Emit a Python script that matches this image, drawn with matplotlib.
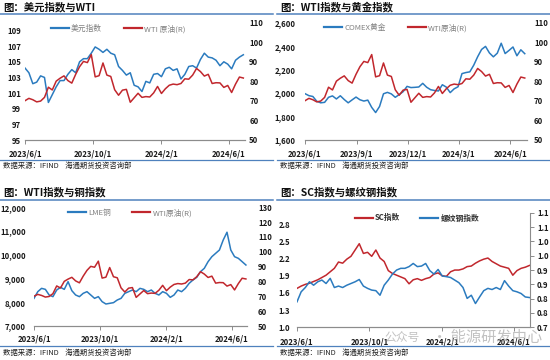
import matplotlib.pyplot as plt
import matplotlib.ticker as mticker
from matplotlib.lines import Line2D
import pandas as pd

plt.rcParams['font.family'] = ['Noto Sans CJK SC', 'DejaVu Sans']

# weekly samples, 2023/6/1 .. 2024/6/27
dates = pd.date_range('2023-06-01', periods=57, freq='7D')

dxy = [104.2, 103.6, 102.2, 102.4, 103.2, 103.0, 99.8, 100.8, 101.8, 102.6,
       102.6, 103.4, 104.0, 103.6, 105.0, 105.4, 105.4, 106.1, 106.9, 106.6,
       106.2, 106.6, 106.1, 105.9, 104.4, 103.9, 103.3, 103.6, 102.0, 101.8,
       101.2, 102.5, 102.3, 103.4, 103.5, 103.1, 104.1, 104.3, 103.9, 104.1,
       102.8, 103.4, 104.4, 104.5, 104.2, 105.3, 106.1, 105.6, 105.5, 105.2,
       104.5, 105.0, 104.7, 104.1, 105.2, 105.6, 105.9]

wti = [70.1, 71.3, 70.6, 69.5, 69.9, 71.8, 77.0, 75.6, 80.1, 81.6,
       82.8, 80.4, 79.1, 83.6, 87.5, 90.2, 89.6, 93.7, 82.3, 82.9,
       89.4, 83.2, 82.5, 75.7, 72.9, 75.5, 75.9, 69.3, 71.6, 73.9,
       71.8, 72.2, 72.0, 74.1, 77.4, 73.8, 76.2, 78.0, 78.6, 78.3,
       78.9, 81.3, 81.1, 83.2, 86.6, 85.0, 82.7, 83.6, 78.9, 79.3,
       79.2, 76.9, 77.9, 74.3, 78.6, 82.2, 81.7]

gold = [1995, 1978, 1971, 1930, 1917, 1921, 1964, 1976, 1950, 1977,
        1945, 1917, 1942, 1966, 1943, 1932, 1940, 1878, 1834, 1886,
        1994, 2006, 1993, 1964, 1987, 2012, 2057, 2047, 2049, 2052,
        2083, 2050, 2029, 2022, 2018, 2071, 2051, 2004, 2036, 2054,
        2166, 2175, 2181, 2238, 2310, 2372, 2398, 2342, 2309, 2340,
        2425, 2337, 2364, 2393, 2318, 2369, 2336]

copper = [8165, 8446, 8586, 8544, 8306, 8236, 8516, 8630, 8544, 8867,
          8488, 8306, 8236, 8376, 8446, 8306, 8165, 8236, 8025, 7927,
          7955, 7983, 8095, 8165, 8376, 8446, 8516, 8446, 8586, 8544,
          8446, 8516, 8376, 8306, 8446, 8376, 8207, 8306, 8516, 8446,
          8586, 8797, 8937, 9050, 9289, 9429, 9710, 9920, 10061, 10201,
          10622, 10950, 10201, 9920, 9850, 9710, 9569]

sc = [1.68, 1.72, 1.75, 1.77, 1.80, 1.83, 1.87, 1.91, 1.97, 2.03,
      2.14, 2.12, 2.19, 2.24, 2.35, 2.46, 2.29, 2.31, 2.24, 2.35,
      2.21, 2.15, 1.99, 1.94, 1.91, 1.88, 1.85, 1.76, 1.83, 1.85,
      1.82, 1.85, 1.87, 1.93, 1.95, 1.90, 1.89, 1.97, 2.00, 2.00,
      2.02, 2.06, 2.07, 2.12, 2.16, 2.19, 2.21, 2.15, 2.11, 2.07,
      2.05, 2.03, 1.91, 1.99, 2.03, 2.05, 2.08]

rebar = [0.789, 0.824, 0.839, 0.859, 0.847, 0.859, 0.865, 0.853, 0.871, 0.839,
         0.844, 0.839, 0.847, 0.853, 0.859, 0.867, 0.844, 0.836, 0.830, 0.828,
         0.812, 0.847, 0.865, 0.886, 0.900, 0.906, 0.906, 0.912, 0.923, 0.912,
         0.914, 0.923, 0.898, 0.886, 0.902, 0.879, 0.877, 0.874, 0.865, 0.856,
         0.839, 0.801, 0.812, 0.783, 0.806, 0.828, 0.836, 0.832, 0.839, 0.832,
         0.863, 0.844, 0.828, 0.824, 0.818, 0.806, 0.804]

xt_a = ['2023-06-01', '2023-10-01', '2024-02-01', '2024-06-01']
xt_b = ['2023-06-01', '2023-09-01', '2023-12-01', '2024-03-01', '2024-06-01']
rebar_labels = ['0.7', '0.8', '0.8', '0.9', '0.9', '1.0', '1.0', '1.1', '1.1']

BLUE = '#2b7bbf'
RED = '#c1272d'
HEAD = '#4f81bd'
W, H = 550, 360

fig = plt.figure(figsize=(5.5, 3.6), dpi=100)


def rect(x0, y0, x1, y1):
    return [x0 / W, 1 - y1 / H, (x1 - x0) / W, (y1 - y0) / H]


def hline(x0, x1, y, lw=1.0):
    fig.add_artist(Line2D([x0 / W, x1 / W], [1 - y / H, 1 - y / H],
                          transform=fig.transFigure, color=HEAD, lw=lw))


def frame(x0, x1, ytitle, yline, yfoot, yfline, title):
    fig.text((x0 + 3) / W, 1 - ytitle / H, title, fontsize=7.5,
             fontweight='bold', va='center', color='#111111')
    hline(x0, x1, yline, 1.1)
    hline(x0, x1, yfline, 0.9)
    fig.text((x0 + 3) / W, 1 - yfoot / H, '数据来源：IFIND    海通期货投资咨询部',
             fontsize=5.3, va='center', color='#222222')


def panel(box, left, right, lylim, ryim, xt, xend, lpad, rpad, xpad,
          lticks=None, rticks=None, lfmt='{x:,.0f}', rlabels=None,
          right_spine=False):
    ax = fig.add_axes(rect(*box))
    ax2 = ax.twinx()
    ax.plot(dates, left[0], color=left[1], lw=1.1)
    ax2.plot(dates, right[0], color=right[1], lw=1.1)
    ax.set_xlim(pd.Timestamp('2023-06-01'), pd.Timestamp(xend))
    ax.set_ylim(*lylim)
    ax2.set_ylim(*ryim)
    for a in (ax, ax2):
        for s in ('top', 'left', 'right'):
            a.spines[s].set_visible(False)
        a.spines['bottom'].set_color('#8c8c8c')
        a.spines['bottom'].set_linewidth(0.8)
    if right_spine:
        ax2.spines['right'].set_visible(True)
        ax2.spines['right'].set_color('#8c8c8c')
        ax2.spines['right'].set_linewidth(0.8)
    tk = pd.to_datetime(xt)
    ax.set_xticks(tk)
    ax.set_xticklabels([f'{d.year}/{d.month}/{d.day}' for d in tk])
    ax.tick_params(axis='x', direction='out', length=3, width=0.7,
                   color='#8c8c8c', pad=xpad, labelsize=5.6)
    ax.set_yticks(lticks)
    ax.yaxis.set_major_formatter(mticker.StrMethodFormatter(lfmt))
    ax.tick_params(axis='y', length=0, pad=lpad, labelsize=5.6)
    ax2.set_yticks(rticks)
    if rlabels is not None:
        ax2.set_yticklabels(rlabels)
    else:
        ax2.yaxis.set_major_formatter(mticker.StrMethodFormatter('{x:.0f}'))
    ax2.tick_params(axis='y', length=3 if right_spine else 0, width=0.7,
                    color='#8c8c8c', pad=rpad, labelsize=5.6)
    for lab in ax.get_xticklabels() + ax.get_yticklabels() + ax2.get_yticklabels():
        lab.set_fontweight('bold')
        lab.set_color('#1a1a1a')
    return ax, ax2


def legend(items, cx, cy, bold=False, gap=2.8):
    handles = [Line2D([0], [0], color=c, lw=1.6) for _, c in items]
    fig.legend(handles, [t for t, _ in items], loc='center',
               bbox_to_anchor=(cx / W, 1 - cy / H), ncol=2, frameon=False,
               fontsize=5.6, handlelength=2.3, handletextpad=0.3,
               columnspacing=gap,
               labelcolor='#333333' if bold else '#808080',
               prop={'weight': 'bold' if bold else 'normal', 'size': 5.6})


# panel 1: 美元指数与WTI
frame(0, 273, 7.5, 13.5, 166, 159.5, '图：美元指数与WTI')
panel((25, 22.7, 245, 140), (dxy, BLUE), (wti, RED), (95, 110), (50, 110),
      xt_a, '2024-06-30', 3, 3, 4,
      lticks=list(range(95, 110, 2)), rticks=list(range(50, 111, 10)))
legend([('美元指数', BLUE), ('WTI 原油(R)', RED)], 118, 29)

# panel 2: WTI与黄金
frame(277, 550, 7.5, 13.5, 166, 159.5, '图：WTI指数与黄金指数')
panel((305, 22.7, 527, 140), (gold, BLUE), (wti, RED), (1600, 2600), (50, 110),
      xt_b, '2024-07-01', 7, 5, 4,
      lticks=list(range(1600, 2601, 200)), rticks=list(range(50, 111, 10)))
legend([('COMEX黄金', BLUE), ('WTI原油(R)', RED)], 396, 28)

# panel 3: WTI与铜
frame(0, 273, 192.5, 200, 353, 346, '图：WTI指数与铜指数')
panel((34, 207.3, 247, 326), (copper, BLUE), (wti, RED), (7000, 12000), (50, 130),
      xt_a, '2024-06-29', 6, 8, 3,
      lticks=list(range(7000, 12001, 1000)), rticks=list(range(50, 131, 10)))
legend([('LME铜', BLUE), ('WTI原油(R)', RED)], 130, 213)

# panel 4: SC与螺纹钢
frame(277, 550, 192.5, 200, 353, 346, '图：SC指数与螺纹钢指数')
panel((297, 212.8, 530, 327.3), (sc, RED), (rebar, BLUE), (1.0, 3.0), (0.7, 1.1),
      xt_a, '2024-06-28', 5, 2, 4,
      lticks=[1.0, 1.3, 1.6, 1.9, 2.2, 2.5, 2.8], lfmt='{x:.1f}',
      rticks=[0.70, 0.75, 0.80, 0.85, 0.90, 0.95, 1.00, 1.05, 1.10],
      rlabels=rebar_labels, right_spine=True)
legend([('SC指数', RED), ('螺纹钢指数', BLUE)], 417, 218, bold=True, gap=2.6)

# watermark (semi-transparent, lies over the axis labels as in the source)
fig.text(402 / W, 1 - 337 / H, '公众号', fontsize=8.5, color='#a8a8a8',
         alpha=0.7, ha='center', va='center')
fig.text(487 / W, 1 - 337 / H, '· 能源研发中心', fontsize=11, color='#a8a8a8',
         alpha=0.7, ha='center', va='center')

fig.savefig('out.png', dpi=100)
